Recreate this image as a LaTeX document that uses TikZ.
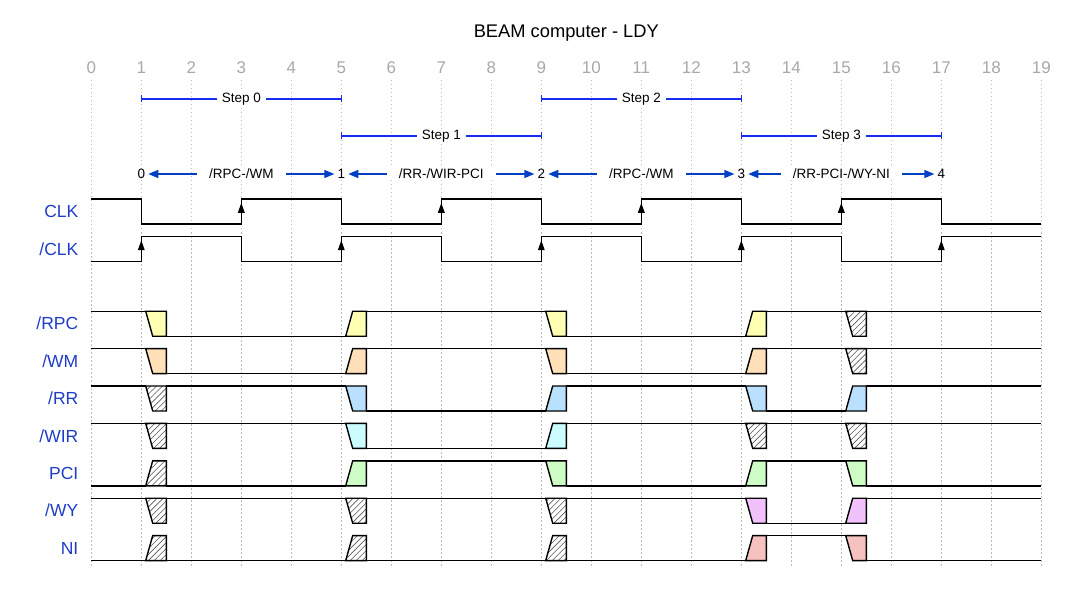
\documentclass[tikz,border=0pt]{standalone}
\usepackage{fontspec}
\setmainfont{Liberation Sans}
\usetikzlibrary{arrows.meta,patterns.meta}
\definecolor{namecol}{HTML}{1E3CC8}
\definecolor{tickcol}{HTML}{A8A8A8}
\definecolor{gridcol}{HTML}{BBBBBB}
\definecolor{brkcol}{HTML}{1A2BF0}
\definecolor{edgecol}{HTML}{0041C4}
\definecolor{cY}{HTML}{FFFFB4}
\definecolor{cO}{HTML}{FFE0B9}
\definecolor{cB}{HTML}{B9E0FF}
\definecolor{cC}{HTML}{CCFDFE}
\definecolor{cG}{HTML}{CDFDC5}
\definecolor{cP}{HTML}{F0C1FB}
\definecolor{cR}{HTML}{F5C2C0}
\newcommand\px[1]{\fontsize{#1bp}{#1bp}\selectfont}
\newcommand\wavesig[3]{%
  \xdef\wlev{#2}\xdef\wx{91.3}%
  \foreach \wc/\wn/\ws in {#3}{%
    \pgfmathsetmacro\wX{91.3+50*\wc}%
    \pgfmathsetmacro\wyo{#1+25*(1-\wlev)}%
    \pgfmathsetmacro\wya{#1+25*\wlev}%
    \draw[wave] (\wx,\wyo) -- ({\wX+4.4},\wyo);
    \draw[wave,\ws] ({\wX+4.4},\wyo) -- ({\wX+25},\wyo) -- ({\wX+25},\wya) -- ({\wX+11.4},\wya) -- cycle;
    \pgfmathsetmacro\wtmp{\wX+25}\xdef\wx{\wtmp}\xdef\wlev{\wn}%
  }%
  \pgfmathsetmacro\wyo{#1+25*(1-\wlev)}%
  \draw[wave] (\wx,\wyo) -- (1041.3,\wyo);
}
\begin{document}
\begin{tikzpicture}[x=1bp,y=-1bp,
  wave/.style={black,line width=1.4bp,line join=miter},
  gridline/.style={gridcol,line width=0.9bp,dash pattern=on 1.5bp off 2.5bp},
  ticklbl/.style={text=tickcol,font=\px{17}},
  siglbl/.style={text=namecol,font=\px{17.5},anchor=east,inner sep=0pt},
  brk/.style={brkcol,line width=1.1bp},
  brklbl/.style={fill=white,font=\px{13.5},inner xsep=5bp,inner ysep=1bp},
  edgelbl/.style={fill=white,font=\px{13.5},inner xsep=12bp,inner ysep=1bp},
  enode/.style={font=\px{13.5},inner sep=3bp},
  earr/.style={edgecol,line width=1.3bp,{Triangle[length=10bp,width=8bp]}-{Triangle[length=10bp,width=8bp]}},
  clkarr/.style={black,fill=black},
  ylw/.style={fill=cY}, org/.style={fill=cO}, blu/.style={fill=cB},
  cyn/.style={fill=cC}, grn/.style={fill=cG}, prp/.style={fill=cP}, pnk/.style={fill=cR},
  hatchx/.style={pattern={Lines[angle=45,distance=4.2bp,line width=0.6bp]},pattern color=black!65}]
\useasboundingbox (0,0) rectangle (1073,596);
% title
\node[font=\px{18.3}] (title) at (566.3,33) {BEAM computer - LDY};
% grid and ticks
\foreach \i in {0,...,19}{
  \draw[gridline] ({91.3+50*\i},80) -- ({91.3+50*\i},567);
  \node[ticklbl] (tick\i) at ({91.3+50*\i},68) {\i};
}
% step brackets
\foreach \a/\b/\y/\k in {1/5/99/0,5/9/136/1,9/13/99/2,13/17/136/3}{
  \coordinate (sa\k) at ({91.3+50*\a},\y);
  \coordinate (sb\k) at ({91.3+50*\b},\y);
  \draw[brk] (sa\k) -- (sb\k);
  \draw[brk] ([yshift=-3.5bp]sa\k) -- ([yshift=3.5bp]sa\k);
  \draw[brk] ([yshift=-3.5bp]sb\k) -- ([yshift=3.5bp]sb\k);
  \node[brklbl] (step\k) at ({91.3+50*(\a+\b)/2},\y) {Step \k};
}
% edge arrows
\foreach \k/\c in {0/1,1/5,2/9,3/13,4/17}{
  \node[enode] (e\k) at ({91.3+50*\c},174) {\k};
}
\draw[earr] (e0) -- (e1) node[midway,edgelbl,text=black] (el0) {/RPC-/WM};
\draw[earr] (e1) -- (e2) node[midway,edgelbl,text=black] (el1) {/RR-/WIR-PCI};
\draw[earr] (e2) -- (e3) node[midway,edgelbl,text=black] (el2) {/RPC-/WM};
\draw[earr] (e3) -- (e4) node[midway,edgelbl,text=black] (el3) {/RR-PCI-/WY-NI};
% clocks
\draw[wave] (91.3,199) -| (141.3,224) -| (241.3,199) -| (341.3,224) -| (441.3,199) -| (541.3,224) -| (641.3,199) -| (741.3,224) -| (841.3,199) -| (941.3,224) -- (1041.3,224);
\draw[wave] (91.3,261.4) -| (141.3,236.4) -| (241.3,261.4) -| (341.3,236.4) -| (441.3,261.4) -| (541.3,236.4) -| (641.3,261.4) -| (741.3,236.4) -| (841.3,261.4) -| (941.3,236.4) -- (1041.3,236.4);
\foreach \c in {3,7,11,15}{
  \fill[clkarr] ({91.3+50*\c},203) -- ({91.3+50*\c-3.5},212.8) -- ({91.3+50*\c+3.5},212.8) -- cycle;
}
\foreach \c in {1,5,9,13,17}{
  \fill[clkarr] ({91.3+50*\c},240.4) -- ({91.3+50*\c-3.5},250.2) -- ({91.3+50*\c+3.5},250.2) -- cycle;
}
% signal names
\node[siglbl] (nCLK) at (78.5,211.5) {CLK};
\node[siglbl] (nnCLK) at (78.5,248.9) {/CLK};
\node[siglbl] (nRPC) at (78.5,323.7) {/RPC};
\node[siglbl] (nWM) at (78.5,361.1) {/WM};
\node[siglbl] (nRR) at (78.5,398.5) {/RR};
\node[siglbl] (nWIR) at (78.5,435.9) {/WIR};
\node[siglbl] (nPCI) at (78.5,473.3) {PCI};
\node[siglbl] (nWY) at (78.5,510.7) {/WY};
\node[siglbl] (nNI) at (78.5,548.1) {NI};
% data signals
\wavesig{311.2}{1}{1/0/ylw, 5/1/ylw, 9/0/ylw, 13/1/ylw, 15/1/hatchx}
\wavesig{348.6}{1}{1/0/org, 5/1/org, 9/0/org, 13/1/org, 15/1/hatchx}
\wavesig{386.0}{1}{1/1/hatchx, 5/0/blu, 9/1/blu, 13/0/blu, 15/1/blu}
\wavesig{423.4}{1}{1/1/hatchx, 5/0/cyn, 9/1/cyn, 13/1/hatchx, 15/1/hatchx}
\wavesig{460.8}{0}{1/0/hatchx, 5/1/grn, 9/0/grn, 13/1/grn, 15/0/grn}
\wavesig{498.2}{1}{1/1/hatchx, 5/1/hatchx, 9/1/hatchx, 13/0/prp, 15/1/prp}
\wavesig{535.6}{0}{1/0/hatchx, 5/0/hatchx, 9/0/hatchx, 13/1/pnk, 15/0/pnk}
\end{tikzpicture}
\end{document}
